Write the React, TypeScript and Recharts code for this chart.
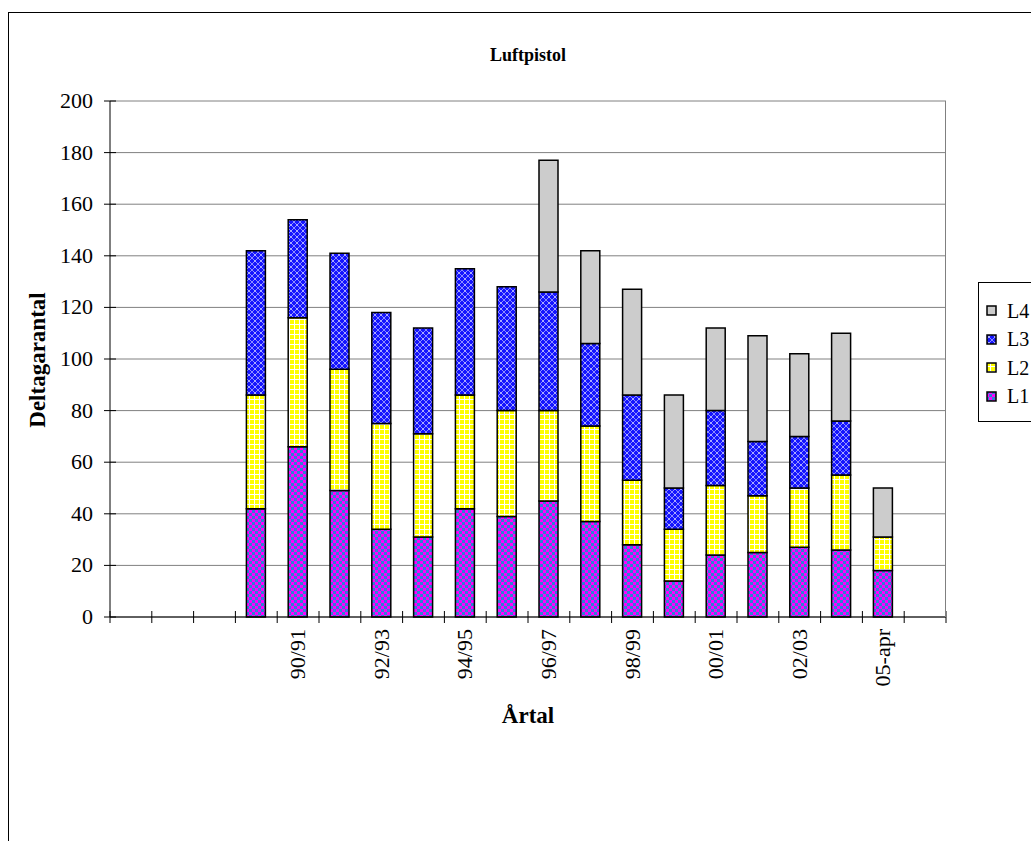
import React from "react";
import {
  Bar,
  BarChart,
  CartesianGrid,
  Legend,
  ReferenceLine,
  XAxis,
  YAxis,
} from "recharts";

// seasons; the first three and the last slot are empty in the original sheet
const categories = [
  "", "", "", "89/90", "90/91", "91/92", "92/93", "93/94", "94/95", "95/96",
  "96/97", "97/98", "98/99", "99/00", "00/01", "01/02", "02/03", "03/04", "05-apr", "",
];
const l1 = [null, null, null, 42, 66, 49, 34, 31, 42, 39, 45, 37, 28, 14, 24, 25, 27, 26, 18, null];
const l2 = [null, null, null, 44, 50, 47, 41, 40, 44, 41, 35, 37, 25, 20, 27, 22, 23, 29, 13, null];
const l3 = [null, null, null, 56, 38, 45, 43, 41, 49, 48, 46, 32, 33, 16, 29, 21, 20, 21, null, null];
const l4 = [null, null, null, null, null, null, null, null, null, null, 51, 36, 41, 36, 32, 41, 32, 34, 19, null];

const yTicks = [0, 20, 40, 60, 80, 100, 120, 140, 160, 180, 200];

const data = categories.map((name, i) => ({
  name,
  L1: l1[i],
  L2: l2[i],
  L3: l3[i],
  L4: l4[i],
}));

const FONT = '"Liberation Serif", "DejaVu Serif", serif';

const CHART_W = 1031;
const CHART_H = 841;
const MARGIN = { top: 101, right: 85, bottom: 145, left: 60 };
const Y_AXIS_W = 50;
// width of one category slot, so the tick marks can sit between the bars
const BAND = (CHART_W - MARGIN.left - Y_AXIS_W - MARGIN.right) / categories.length;

const SERIES = [
  { key: "L4", fill: "#cccccc" },
  { key: "L3", fill: "url(#patL3)" },
  { key: "L2", fill: "url(#patL2)" },
  { key: "L1", fill: "url(#patL1)" },
];

function ValueTick({ x, y, payload }: any) {
  return (
    <g>
      <line x1={x - 6} x2={x + 6} y1={y} y2={y} stroke="#000" />
      <text x={x - 17} y={y} dy={7} textAnchor="end" fontFamily={FONT} fontSize={22} fill="#000">
        {payload.value}
      </text>
    </g>
  );
}

function CategoryTick({ x, y, payload, index }: any) {
  const left = x - BAND / 2;
  const tx = x + 7;
  const ty = y + 12;
  const isLast = index === categories.length - 1;
  return (
    <g>
      <line x1={left} x2={left} y1={y - 6} y2={y + 6} stroke="#000" />
      {isLast && <line x1={left + BAND} x2={left + BAND} y1={y - 6} y2={y + 6} stroke="#000" />}
      {index % 2 === 0 && (
        <text
          x={tx}
          y={ty}
          transform={`rotate(-90 ${tx} ${ty})`}
          textAnchor="end"
          fontFamily={FONT}
          fontSize={22}
          fill="#000"
        >
          {payload.value}
        </text>
      )}
    </g>
  );
}

function LegendBox() {
  return (
    <div
      style={{
        border: "1px solid #000",
        background: "#fff",
        padding: "14px 0 10px 7px",
        fontFamily: FONT,
        fontSize: 20,
        color: "#000",
      }}
    >
      {SERIES.map((s) => (
        <div key={s.key} style={{ display: "flex", alignItems: "center", height: 28.5 }}>
          <svg width={12} height={12} style={{ marginRight: 9 }}>
            <rect x={1} y={1} width={9} height={9} fill={s.fill} stroke="#000" strokeWidth={1.5} />
          </svg>
          <span>{s.key}</span>
        </div>
      ))}
    </div>
  );
}

export default function App() {
  return (
    <div style={{ position: "fixed", left: 0, top: 0, width: CHART_W, height: CHART_H, overflow: "hidden", background: "#fff" }}>
      <div
        style={{
          position: "absolute",
          left: 8,
          top: 12,
          width: 1100,
          height: 900,
          border: "1px solid #000",
        }}
      />
      <div style={{ position: "absolute", left: 0, top: 0 }}>
        <BarChart width={CHART_W} height={CHART_H} data={data} margin={MARGIN}>
          <defs>
            <pattern id="patL1" width={6} height={6} patternUnits="userSpaceOnUse">
              <rect width={6} height={6} fill="#ff00ff" />
              <rect width={3} height={3} fill="#2f7fd6" />
              <rect x={3} y={3} width={3} height={3} fill="#2f7fd6" />
            </pattern>
            <pattern id="patL2" width={5} height={5} patternUnits="userSpaceOnUse">
              <rect width={5} height={5} fill="#ffff00" />
              <rect x={4} width={1} height={5} fill="#ffffff" />
              <rect y={4} width={5} height={1} fill="#ffffff" />
            </pattern>
            <pattern id="patL3" width={6} height={6} patternUnits="userSpaceOnUse">
              <rect width={6} height={6} fill="#1515ff" />
              <path d="M0 0 L6 6 M6 0 L0 6" stroke="#9a9aff" strokeWidth={0.9} />
              <rect x={2.5} y={2.5} width={1} height={1} fill="#ffffff" />
            </pattern>
          </defs>
          <CartesianGrid vertical={false} stroke="#808080" />
          <XAxis
            dataKey="name"
            interval={0}
            height={79}
            tickSize={0}
            tickMargin={0}
            tickLine={false}
            axisLine={{ stroke: "#000" }}
            tick={<CategoryTick />}
          />
          <YAxis
            width={Y_AXIS_W}
            domain={[0, 200]}
            ticks={yTicks}
            tickSize={0}
            tickMargin={0}
            tickLine={false}
            tick={<ValueTick />}
            axisLine={{ stroke: "#000" }}
          />
          <ReferenceLine x={categories.length - 1} stroke="none" />
          <Legend
            layout="vertical"
            align="center"
            verticalAlign="middle"
            content={<LegendBox />}
            wrapperStyle={{ left: 978, top: 282, width: 80 }}
          />
          <Bar dataKey="L1" stackId="s" barSize={19} fill="url(#patL1)" stroke="#000" strokeWidth={1.5} isAnimationActive={false} />
          <Bar dataKey="L2" stackId="s" barSize={19} fill="url(#patL2)" stroke="#000" strokeWidth={1.5} isAnimationActive={false} />
          <Bar dataKey="L3" stackId="s" barSize={19} fill="url(#patL3)" stroke="#000" strokeWidth={1.5} isAnimationActive={false} />
          <Bar dataKey="L4" stackId="s" barSize={19} fill="#cccccc" stroke="#000" strokeWidth={1.5} isAnimationActive={false} />
        </BarChart>
      </div>
      {/* right edge of the plot frame */}
      <div
        style={{
          position: "absolute",
          left: CHART_W - MARGIN.right - 1,
          top: MARGIN.top,
          width: 1,
          height: CHART_H - MARGIN.top - MARGIN.bottom - 79,
          background: "#808080",
        }}
      />
      <div
        style={{
          position: "absolute",
          left: 528,
          top: 55,
          transform: "translate(-50%, -50%)",
          fontFamily: FONT,
          fontWeight: "bold",
          fontSize: 18,
          whiteSpace: "nowrap",
        }}
      >
        Luftpistol
      </div>
      <div
        style={{
          position: "absolute",
          left: 38,
          top: 360,
          transform: "translate(-50%, -50%) rotate(-90deg)",
          fontFamily: FONT,
          fontWeight: "bold",
          fontSize: 23,
          whiteSpace: "nowrap",
        }}
      >
        Deltagarantal
      </div>
      <div
        style={{
          position: "absolute",
          left: 528,
          top: 716,
          transform: "translate(-50%, -50%)",
          fontFamily: FONT,
          fontWeight: "bold",
          fontSize: 23,
          whiteSpace: "nowrap",
        }}
      >
        Årtal
      </div>
    </div>
  );
}
